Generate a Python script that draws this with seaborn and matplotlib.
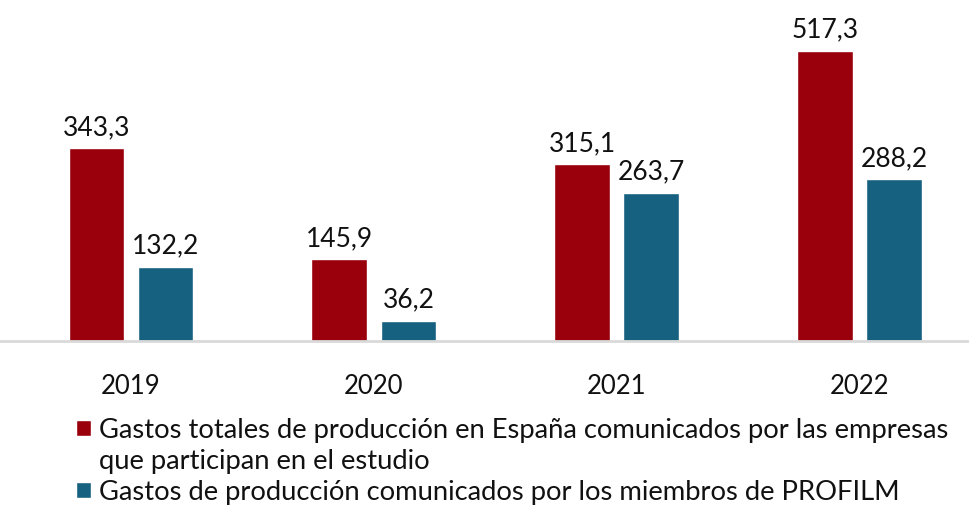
import matplotlib
matplotlib.use("Agg")
import matplotlib.pyplot as plt
from matplotlib.patches import Patch
import seaborn as sns
import pandas as pd

# --- Data ---
years = ["2019", "2020", "2021", "2022"]
gastos_totales = [343.3, 145.9, 315.1, 517.3]
gastos_profilm = [132.2, 36.2, 263.7, 288.2]
series_names = [
    "Gastos totales de producción en España comunicados por las empresas",
    "Gastos de producción comunicados por los miembros de PROFILM",
]
wrap_line = "que participan en el estudio"

RED = "#9a000c"
BLUE = "#166080"
FONT = ["Lato", "DejaVu Sans"]

sns.set_theme(style="white")
plt.rcParams["font.family"] = FONT

df = pd.DataFrame({
    "year": years * 2,
    "value": gastos_totales + gastos_profilm,
    "serie": [series_names[0]] * 4 + [series_names[1]] * 4,
})

fig = plt.figure(figsize=(9.69, 5.13), dpi=100)
ax = fig.add_axes([0, 172 / 513, 1, 341 / 513])

sns.barplot(data=df, x="year", y="value", hue="serie", hue_order=series_names,
            palette=[RED, BLUE], width=0.568, gap=0.19, errorbar=None,
            legend=False, ax=ax, saturation=1)

for container in ax.containers:
    ax.bar_label(container, labels=[f"{v:.1f}".replace(".", ",") for v in container.datavalues],
                 padding=6, fontsize=19, color="#111111")

ax.set_xlim(-0.539, 3.449)
ax.set_ylim(0, 608)
ax.set_xlabel("")
ax.set_ylabel("")
ax.set_yticks([])
ax.tick_params(axis="x", length=0, pad=24, labelsize=18.5, labelcolor="#111111")
for side in ["top", "left", "right"]:
    ax.spines[side].set_visible(False)
ax.spines["bottom"].set_color("#d9d9d9")
ax.spines["bottom"].set_linewidth(2)

# second line of the first entry gets an invisible handle so the square sits on line 1
handles = [Patch(facecolor=RED), Patch(facecolor="none", edgecolor="none"), Patch(facecolor=BLUE)]
labels = [series_names[0], wrap_line, series_names[1]]
fig.legend(handles, labels, loc="upper left", bbox_to_anchor=(0.078, 0.186),
           frameon=False, fontsize=19.7, handlelength=0.55, handleheight=0.55,
           handletextpad=0.3, labelspacing=0.22, borderpad=0, borderaxespad=0,
           labelcolor="#111111")

fig.savefig("out.png", dpi=100)
